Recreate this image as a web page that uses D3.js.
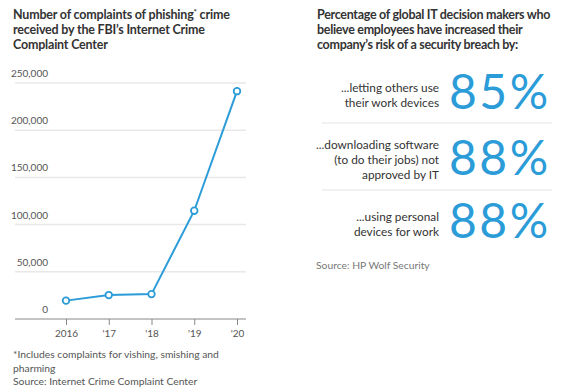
<!DOCTYPE html>
<html><head><meta charset="utf-8">
<script src="https://cdn.jsdelivr.net/npm/d3@7"></script>
<style>
body{margin:0;background:#fff;}
svg{display:block;font-family:Lato, "Noto Sans", sans-serif;}
</style></head><body>
<svg id="c" width="566" height="392"></svg>
<script>
const years = ["2016","'17","'18","'19","'20"];
const complaints = [19465, 25344, 26379, 114702, 241342];
const yTicks = [0, 50000, 100000, 150000, 200000, 250000];
const statLabels = [
  ["...letting others use","their work devices"],
  ["...downloading software","(to do their jobs) not","approved by IT"],
  ["...using personal","devices for work"]
];
const statValues = [85, 88, 88];

const svg = d3.select("#c");
const blue = "#2b9cd8";

// Left title
const t1 = ["Number of complaints of phishing","received by the FBI\u2019s Internet Crime","Complaint Center"];
const tt = svg.append("text").attr("font-size",12.5).attr("font-weight",700).attr("fill","#333").attr("letter-spacing",-0.2);
tt.selectAll("tspan.l").data(t1).join("tspan").attr("class","l").attr("x",13).attr("y",(d,i)=>19+i*15).text(d=>d)
  .each(function(d,i){
    if(i===0){
      const p = d3.select(this.parentNode);
      // placeholder; superscript added after
    }
  });
// superscript asterisk and rest of first line
const first = tt.select("tspan.l");
const after = document.createElementNS("http://www.w3.org/2000/svg","tspan");
first.node().after(after);
d3.select(after).attr("font-size",8).attr("dy",-4).text("*");
const after2 = document.createElementNS("http://www.w3.org/2000/svg","tspan");
after.after(after2);
d3.select(after2).attr("dy",4).text(" crime");

const x = d3.scalePoint().domain(years).range([66,237]);
const y = d3.scaleLinear().domain([0,250000]).range([319,83]);

const g = svg.append("g");
g.selectAll("line.grid").data(yTicks.filter(d=>d>0)).join("line").attr("class","grid")
  .attr("x1",15).attr("x2",246).attr("y1",d=>y(d)).attr("y2",d=>y(d))
  .attr("stroke","#e8e8e8").attr("stroke-width",1.5);
g.selectAll("text.yl").data(yTicks).join("text").attr("class","yl")
  .attr("x",48).attr("y",d=>y(d)-6).attr("text-anchor","end")
  .attr("font-size",10).attr("fill","#555").text(d3.format(","));

const xa = g.append("g").attr("transform","translate(0,319)")
  .call(d3.axisBottom(x).tickSize(6).tickPadding(5));
xa.select(".domain").attr("d","M15,0H246").attr("stroke","#888");
xa.selectAll(".tick line").attr("stroke","#888");
xa.selectAll(".tick text").attr("font-size",10).attr("fill","#555").attr("font-family","Lato, sans-serif");

const data = years.map((d,i)=>({k:d,v:complaints[i]}));
g.append("path").datum(data).attr("fill","none").attr("stroke",blue).attr("stroke-width",2)
  .attr("d",d3.line().x(d=>x(d.k)).y(d=>y(d.v)));
g.selectAll("circle").data(data).join("circle").attr("cx",d=>x(d.k)).attr("cy",d=>y(d.v))
  .attr("r",3.3).attr("fill","#fff").attr("stroke",blue).attr("stroke-width",1.8);

const fn = ["*Includes complaints for vishing, smishing and","pharming","Source: Internet Crime Complaint Center"];
svg.append("text").attr("font-size",10.3).attr("fill","#555")
  .selectAll("tspan").data(fn).join("tspan").attr("x",13).attr("y",(d,i)=>358+i*13.5).text(d=>d);

// Right panel
const t2 = ["Percentage of global IT decision makers who","believe employees have increased their","company\u2019s risk of a security breach by:"];
svg.append("text").attr("font-size",12.5).attr("font-weight",700).attr("fill","#333").attr("letter-spacing",-0.3)
  .selectAll("tspan").data(t2).join("tspan").attr("x",317).attr("y",(d,i)=>19+i*15).text(d=>d);

const rowBase = [109, 175, 238];
const labelTop = [92, 149, 221];
statValues.forEach((v,i)=>{
  svg.append("text").attr("text-anchor","end").attr("font-size",11.8).attr("fill","#333")
    .selectAll("tspan").data(statLabels[i]).join("tspan").attr("x",439).attr("y",(d,j)=>labelTop[i]+j*15).text(d=>d);
  svg.append("text").attr("x",449).attr("y",rowBase[i]).attr("font-size",48).attr("fill",blue)
    .attr("letter-spacing",2.5).attr("font-family","Lato, sans-serif").text(v+"%");
});
[123,190].forEach(yy=>svg.append("line").attr("x1",322).attr("x2",552).attr("y1",yy).attr("y2",yy)
  .attr("stroke","#e3e3e3").attr("stroke-width",1));
svg.append("text").attr("x",316).attr("y",269).attr("font-size",10.3).attr("fill","#777").text("Source: HP Wolf Security");
</script></body></html>
